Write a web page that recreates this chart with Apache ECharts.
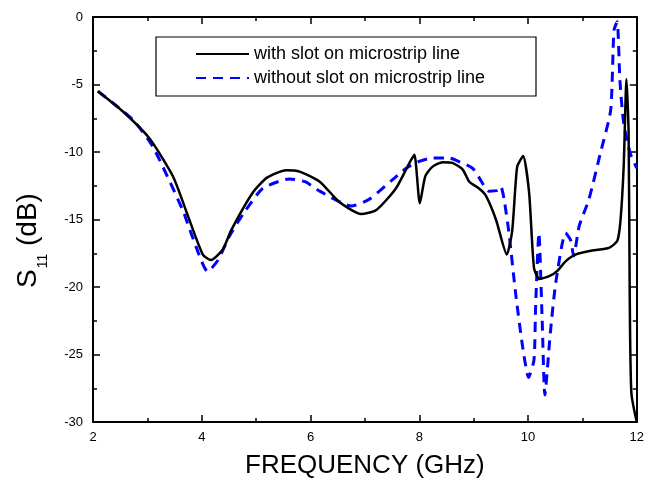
<!DOCTYPE html>
<html>
<head>
<meta charset="utf-8">
<script src="https://cdn.jsdelivr.net/npm/echarts@6/dist/echarts.min.js"></script>
<style>
html,body{margin:0;padding:0;background:#fff;}
#c{width:647px;height:488px;}
</style>
</head>
<body>
<div id="c"></div>
<script>
// Data
var withSlotX = [2.09,2.55,3.04,3.47,3.77,4.02,4.17,4.39,4.54,4.94,5.2,5.55,5.8,6.17,6.53,6.93,7.21,7.57,7.82,7.91,8.01,8.11,8.24,8.43,8.61,8.8,8.92,9.1,9.22,9.41,9.61,9.71,9.8,9.91,10.02,10.11,10.21,10.39,10.54,10.69,10.87,11.18,11.49,11.64,11.70,11.76,11.81,11.85,11.87,11.90,12.0];
var withSlotY = [-5.5,-7.0,-9.0,-11.8,-15.0,-17.6,-18.0,-17.2,-15.8,-13.0,-11.9,-11.35,-11.45,-12.2,-13.7,-14.6,-14.3,-12.7,-10.8,-10.2,-13.8,-11.8,-11.1,-10.75,-10.8,-11.3,-12.2,-12.7,-13.2,-15.0,-17.6,-15.8,-11.1,-10.3,-13.0,-18.6,-19.4,-19.2,-18.8,-18.1,-17.6,-17.3,-17.1,-16.6,-15.1,-11.0,-4.6,-8.6,-20.4,-27.8,-30.0];

var withoutSlotX = [2.09,2.73,3.1,3.65,3.83,4.11,4.3,4.5,4.76,5.12,5.61,5.9,6.17,6.59,6.75,7.08,7.51,7.76,8.0,8.24,8.55,8.67,8.98,9.10,9.28,9.44,9.50,9.56,9.65,9.77,9.90,10.01,10.11,10.14,10.20,10.26,10.31,10.41,10.51,10.69,10.78,10.84,10.94,11.12,11.33,11.52,11.58,11.64,11.69,11.76,11.88,12.0];
var withoutSlotY = [-5.5,-7.6,-9.6,-14.3,-16.3,-18.85,-18.0,-16.3,-14.6,-12.7,-12.0,-12.2,-12.9,-13.8,-14.0,-13.5,-12.05,-11.2,-10.7,-10.45,-10.45,-10.6,-11.2,-11.9,-12.9,-12.85,-12.55,-13.5,-16.0,-20.4,-24.4,-26.7,-25.4,-21.4,-16.0,-22.4,-28.0,-23.4,-19.7,-16.0,-16.5,-17.7,-15.5,-13.5,-10.1,-6.9,-1.0,-0.35,-4.7,-7.9,-10.1,-11.2];

var seriesNames = ['with slot on microstrip line','without slot on microstrip line'];
var xTicks = {min:2, max:12, interval:2};
var yTicks = {min:-30, max:0, interval:5};

function pairs(xs, ys){ return xs.map(function(x,i){ return [x, ys[i]]; }); }

var chart = echarts.init(document.getElementById('c'), null, {renderer:'canvas'});
var font = 'Liberation Sans, Arial, sans-serif';
var axisLine = {show:true, onZero:false, lineStyle:{color:'#000', width:2}};
var tick = {show:true, inside:true, length:7, lineStyle:{color:'#000', width:1.5}};
var minorTick = {show:true, inside:true, splitNumber:2, length:4, lineStyle:{color:'#000', width:1.5}};

chart.setOption({
  animation:false,
  backgroundColor:'#fff',
  grid:{left:93, right:9, top:17, bottom:66},
  xAxis:[{
    type:'value', min:xTicks.min, max:xTicks.max, interval:xTicks.interval,
    axisLine:axisLine, axisTick:tick, minorTick:minorTick, splitLine:{show:false},
    axisLabel:{color:'#000', fontSize:13, fontFamily:font, margin:9},
    name:'FREQUENCY (GHz)', nameLocation:'middle', nameGap:31,
    nameTextStyle:{color:'#000', fontSize:26, fontFamily:font}
  },{
    type:'value', position:'top', min:xTicks.min, max:xTicks.max, interval:xTicks.interval,
    axisLine:axisLine, axisTick:tick, minorTick:minorTick, splitLine:{show:false},
    axisLabel:{show:false}
  }],
  yAxis:[{
    type:'value', min:yTicks.min, max:yTicks.max, interval:yTicks.interval,
    axisLine:axisLine, axisTick:tick, minorTick:minorTick, splitLine:{show:false},
    axisLabel:{color:'#000', fontSize:13, fontFamily:font, margin:10},
    name:'{a|S}{b|11}{a| (dB)}', nameLocation:'middle', nameGap:43,
    nameTextStyle:{color:'#000', fontFamily:font, padding:[0,42,0,0],
      rich:{a:{fontSize:28, fontFamily:font, color:'#000', lineHeight:44},
            b:{fontSize:14, fontFamily:font, color:'#000', lineHeight:12, verticalAlign:'bottom', padding:[0,0,0,1]}}}
  },{
    type:'value', position:'right', min:yTicks.min, max:yTicks.max, interval:yTicks.interval,
    axisLine:axisLine, axisTick:tick, minorTick:minorTick, splitLine:{show:false},
    axisLabel:{show:false}
  }],
  legend:{
    orient:'vertical', left:195, top:44, padding:0, itemWidth:53, itemHeight:14, itemGap:4,
    textStyle:{color:'#000', fontSize:18, fontFamily:font, lineHeight:20},
    itemStyle:{opacity:0},
    data:seriesNames
  },
  graphic:[{type:'rect', shape:{x:156, y:37, width:380, height:59}, style:{fill:'none', stroke:'#000', lineWidth:1.2}, z:0}],
  series:[{
    name:seriesNames[0], type:'line', symbol:'none', smooth:0.2,
    lineStyle:{color:'#000', width:2.5}, itemStyle:{color:'#000'},
    data:pairs(withSlotX, withSlotY), z:3
  },{
    name:seriesNames[1], type:'line', symbol:'none', smooth:0.2,
    lineStyle:{color:'#0000ff', width:3, type:[10,7]}, itemStyle:{color:'#0000ff'},
    data:pairs(withoutSlotX, withoutSlotY), z:2
  }]
});
</script>
</body>
</html>
